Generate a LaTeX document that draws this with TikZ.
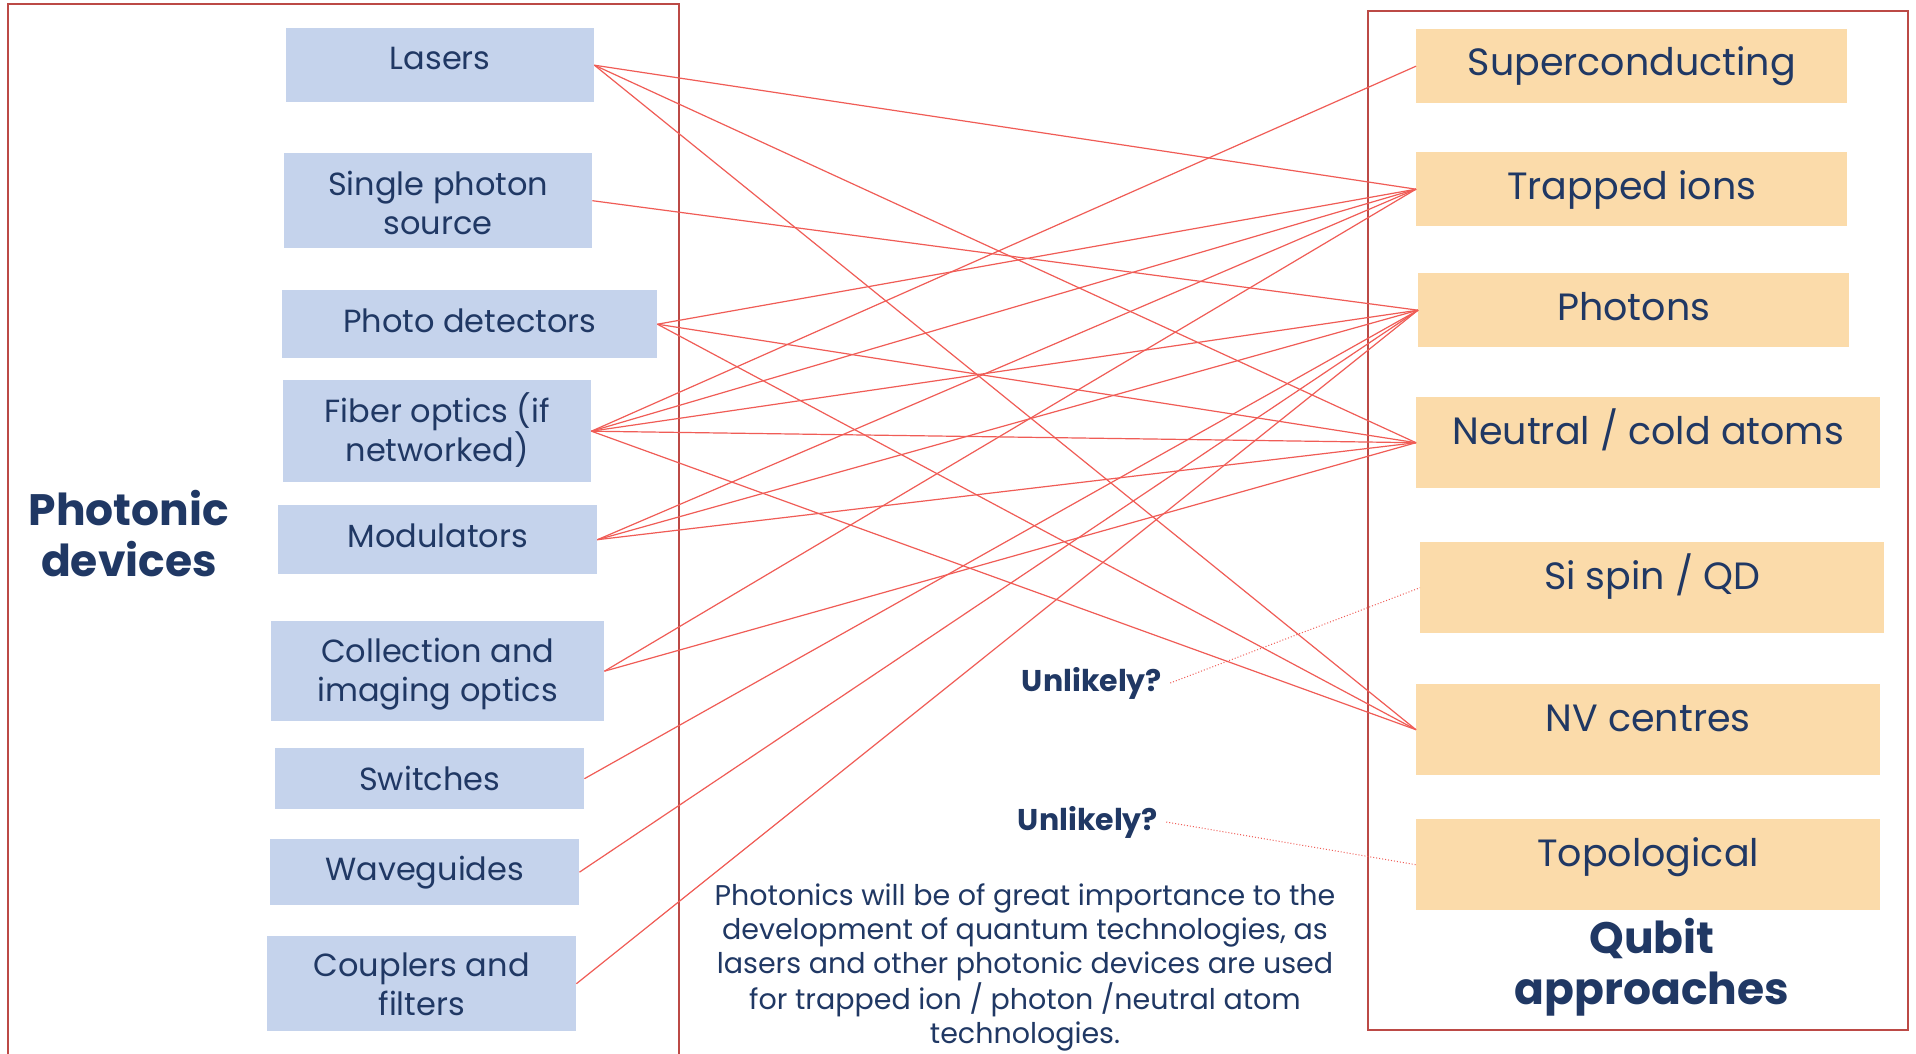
\documentclass[tikz,border=0pt]{standalone}
\usepackage{fontspec}
\setmainfont{Poppins}
\usetikzlibrary{calc}
\definecolor{navy}{RGB}{32,56,100}
\definecolor{boxblue}{RGB}{197,211,236}
\definecolor{boxorange}{RGB}{251,219,170}
\definecolor{framered}{RGB}{188,74,70}
\definecolor{linkred}{RGB}{240,92,86}

\begin{document}
\begin{tikzpicture}[x=1pt,y=-1pt,
  devbox/.style={fill=boxblue, draw=none, inner sep=0pt, anchor=north west},
  qbox/.style={fill=boxorange, draw=none, inner sep=0pt, anchor=north west},
  % multi-line nodes: the base anchor sits on the last line
  devtxt/.style={text=navy, inner sep=0pt, anchor=base, align=center,
    font=\fontsize{32}{39}\selectfont},
  qtxt/.style={text=navy, inner sep=0pt, anchor=base, align=center,
    font=\fontsize{38}{45}\selectfont},
  head/.style={text=navy, inner sep=0pt, anchor=base, align=center,
    font=\fontsize{44}{51}\selectfont\bfseries},
  note/.style={text=navy, inner sep=8pt, align=center,
    font=\fontsize{30}{34}\selectfont\bfseries},
  para/.style={text=navy, inner sep=0pt, anchor=base, align=center,
    font=\fontsize{28.5}{34}\selectfont},
  frame/.style={draw=framered, line width=2.5pt},
  link/.style={draw=linkred, line width=1.2pt},
  maybe/.style={draw=linkred, line width=1pt, dotted}
]
\useasboundingbox (0,0) rectangle (1916,1054);
\fill[white] (0,0) rectangle (1916,1054);

% photonic devices
\node[devbox, minimum width=308pt, minimum height=74pt]  (las) at (286,28)  {};
\node[devbox, minimum width=308pt, minimum height=95pt]  (sps) at (284,153) {};
\node[devbox, minimum width=375pt, minimum height=68pt]  (pd)  at (282,290) {};
\node[devbox, minimum width=308pt, minimum height=102pt] (fib) at (283,380) {};
\node[devbox, minimum width=319pt, minimum height=69pt]  (mod) at (278,505) {};
\node[devbox, minimum width=333pt, minimum height=100pt] (col) at (271,621) {};
\node[devbox, minimum width=309pt, minimum height=61pt]  (swi) at (275,748) {};
\node[devbox, minimum width=309pt, minimum height=66pt]  (wav) at (270,839) {};
\node[devbox, minimum width=309pt, minimum height=95pt]  (cou) at (267,936) {};

\node[devtxt] (lasT) at ($(las.north)+(0,42)$) {Lasers};
\node[devtxt] (spsT) at ($(sps.north)+(0,81)$) {Single photon\\source};
\node[devtxt] (pdT)  at ($(pd.north)+(0,42)$)  {Photo detectors};
\node[devtxt] (fibT) at ($(fib.north)+(0,81)$) {Fiber optics (if\\networked)};
\node[devtxt] (modT) at ($(mod.north)+(0,42)$) {Modulators};
\node[devtxt] (colT) at ($(col.north)+(0,80)$) {Collection and\\imaging optics};
\node[devtxt] (swiT) at ($(swi.north)+(0,42)$) {Switches};
\node[devtxt] (wavT) at ($(wav.north)+(0,41)$) {Waveguides};
\node[devtxt] (couT) at ($(cou.north)+(0,79)$) {Couplers and\\filters};

% qubit approaches
\node[qbox, minimum width=431pt, minimum height=74pt] (sc) at (1416,29)  {};
\node[qbox, minimum width=431pt, minimum height=74pt] (ti) at (1416,152) {};
\node[qbox, minimum width=431pt, minimum height=74pt] (ph) at (1418,273) {};
\node[qbox, minimum width=464pt, minimum height=91pt] (na) at (1416,397) {};
\node[qbox, minimum width=464pt, minimum height=91pt] (si) at (1420,542) {};
\node[qbox, minimum width=464pt, minimum height=91pt] (nv) at (1416,684) {};
\node[qbox, minimum width=464pt, minimum height=91pt] (to) at (1416,819) {};

\node[qtxt] (scT) at ($(sc.north)+(0,47)$) {Superconducting};
\node[qtxt] (tiT) at ($(ti.north)+(0,47)$) {Trapped ions};
\node[qtxt] (phT) at ($(ph.north)+(0,47)$) {Photons};
\node[qtxt] (naT) at ($(na.north)+(0,47)$) {Neutral / cold atoms};
\node[qtxt] (siT) at ($(si.north)+(0,47)$) {Si spin / QD};
\node[qtxt] (nvT) at ($(nv.north)+(0,47)$) {NV centres};
\node[qtxt] (toT) at ($(to.north)+(0,47)$) {Topological};

% group frames and titles
\draw[frame] (8,1060) -- (8,4) -- (679,4) -- (679,1060);
\draw[frame] (1368,11) rectangle (1908,1030);
\node[head] (devhead) at (129,576) {Photonic\\devices};
\node[head] (qhead) at (1652,1004) {Qubit\\approaches};

% links between devices and approaches
\foreach \a/\b in {las/ti, las/na, las/nv,
                   sps/ph,
                   pd/ti, pd/na, pd/nv,
                   fib/sc, fib/ti, fib/ph, fib/na, fib/nv,
                   mod/ti, mod/ph, mod/na,
                   col/ti, col/na,
                   swi/ph, wav/ph, cou/ph}
  \draw[link] (\a.east) -- (\b.west);

% doubtful cases
\node[note] (un1) at (1092,683) {Unlikely?};
\node[note] (un2) at (1088,822) {Unlikely?};
\draw[maybe] (un1.east) -- (si.west);
\draw[maybe] (un2.east) -- (to.west);

\node[para] (summary) at (1025,1043) {Photonics will be of great importance to the\\
development of quantum technologies, as\\
lasers and other photonic devices are used\\
for trapped ion / photon /neutral atom\\
technologies.};
\end{tikzpicture}
\end{document}
